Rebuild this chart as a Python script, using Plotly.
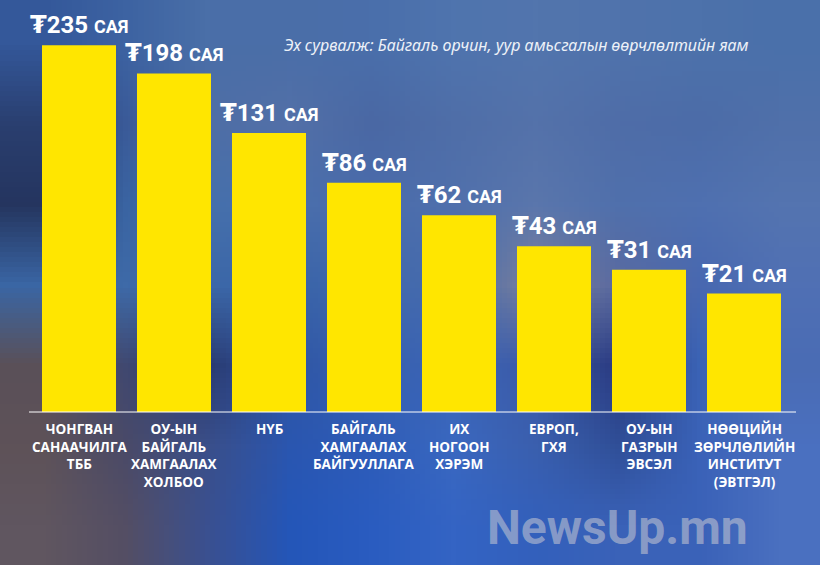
import base64
import struct
import zlib
from typing import List

import plotly.graph_objects as go

CATEGORIES = [
    "ЧОНГВАН<br>САНААЧИЛГА<br>ТББ",
    "ОУ-ЫН<br>БАЙГАЛЬ<br>ХАМГААЛАХ<br>ХОЛБОО",
    "НҮБ",
    "БАЙГАЛЬ<br>ХАМГААЛАХ<br>БАЙГУУЛЛАГА",
    "ИХ<br>НОГООН<br>ХЭРЭМ",
    "ЕВРОП,<br>ГХЯ",
    "ОУ-ЫН<br>ГАЗРЫН<br>ЭВСЭЛ",
    "НӨӨЦИЙН<br>ЗӨРЧЛӨЛИЙН<br>ИНСТИТУТ<br>(ЭВТГЭЛ)",
]
AMOUNTS = [235, 198, 131, 86, 62, 43, 31, 21]  # сая төгрөг
UNIT = "САЯ"
CURRENCY = "₮"
SOURCE = "Эх сурвалж: Байгаль орчин, уур амьсгалын өөрчлөлтийн яам"
WATERMARK = "NewsUp.mn"

# the infographic does not draw bars linearly: heights follow roughly value ** 0.468
HEIGHT_POWER = 0.468

W, H = 820, 565
BASELINE_PX = 412
PX_PER_UNIT = 28.5
BAR_PITCH = 95
FIRST_BAR_CENTER = 79
BAR_WIDTH = 74

YELLOW = "#ffe600"
FONT = "Roboto, 'DejaVu Sans', sans-serif"
LABEL_FONT = "'Open Sans', Roboto, sans-serif"

# very coarse colour map of the blurred photo behind the chart
BACKDROP = [
    ["#34589a", "#3d63a2", "#4a6fa8", "#4a6ea8", "#4a6fab", "#4f74ae", "#5275ad", "#5073ac", "#4d72ab", "#4a70aa"],
    ["#2a3f70", "#3a5a98", "#4e6ea6", "#5370a8", "#4a68a4", "#4f6ea8", "#5472aa", "#4f6da8", "#4c6ca8", "#5070aa"],
    ["#25355f", "#3a64a2", "#4570ac", "#4a6fac", "#4a6cac", "#5070ac", "#5a76ac", "#5070ac", "#4f70b0", "#5474b0"],
    ["#3a66a4", "#3e6aa8", "#3c68a8", "#3a64a8", "#4068ae", "#486cac", "#7a7f9c", "#5a6aa0", "#4868b0", "#5070b4"],
    ["#5a5058", "#404870", "#2a3a70", "#2f56a5", "#3760b0", "#3c65b5", "#3c5aa8", "#2a3a80", "#3a63b5", "#4a6cb4"],
    ["#5e5258", "#4a4a68", "#3a4f8a", "#2a56b0", "#2e5cb8", "#3a68c0", "#3a5fae", "#304f98", "#3a62b8", "#4a70c0"],
    ["#605660", "#544e64", "#3a5090", "#2456b8", "#2a5cc0", "#3464c4", "#3360bc", "#3a62b8", "#3a62b8", "#4a70c0"],
]


def backdrop_uri(rows: List[List[str]]) -> str:
    raw = b""
    for row in rows:
        raw += b"\x00" + bytes(int(c[i:i + 2], 16) for c in row for i in (1, 3, 5))

    def chunk(tag: bytes, data: bytes) -> bytes:
        return struct.pack(">I", len(data)) + tag + data + struct.pack(">I", zlib.crc32(tag + data) & 0xFFFFFFFF)

    png = b"\x89PNG\r\n\x1a\n"
    png += chunk(b"IHDR", struct.pack(">IIBBBBB", len(rows[0]), len(rows), 8, 2, 0, 0, 0))
    png += chunk(b"IDAT", zlib.compress(raw))
    png += chunk(b"IEND", b"")
    return "data:image/png;base64," + base64.b64encode(png).decode()


positions = list(range(len(AMOUNTS)))
heights = [a ** HEIGHT_POWER for a in AMOUNTS]

fig = go.Figure(
    go.Bar(
        x=positions,
        y=heights,
        width=BAR_WIDTH / BAR_PITCH,
        marker={"color": YELLOW, "line": {"width": 0}},
        hoverinfo="skip",
    )
)

# value labels over the bars
for pos, h, amount in zip(positions, heights, AMOUNTS):
    fig.add_annotation(
        x=pos, y=h, xref="x", yref="y",
        text=f"{CURRENCY}{amount} <span style='font-size:18px'>{UNIT}</span>",
        showarrow=False, xanchor="center", yanchor="bottom", yshift=4,
        font={"family": FONT, "size": 24, "color": "white", "weight": "bold"},
    )

# category names under the baseline
for pos, name in zip(positions, CATEGORIES):
    fig.add_annotation(
        x=pos, y=(H - 418) / H, xref="x", yref="paper",
        text=name, showarrow=False, xanchor="center", yanchor="top", align="center",
        font={"family": LABEL_FONT, "size": 13.5, "color": "white", "weight": "bold"},
    )

fig.add_annotation(
    x=282 / W, y=1 - 45 / H, xref="paper", yref="paper",
    text=SOURCE, showarrow=False, xanchor="left", yanchor="middle",
    font={"family": "'Noto Sans', sans-serif", "size": 16, "color": "#edf1f8", "style": "italic"},
)

fig.add_annotation(
    x=617 / W, y=1 - 527 / H, xref="paper", yref="paper",
    text=WATERMARK, showarrow=False, xanchor="center", yanchor="middle",
    font={"family": FONT, "size": 48, "color": "rgba(205,205,212,0.55)", "weight": "bold"},
)

fig.add_shape(
    type="line", xref="paper", yref="paper",
    x0=29 / W, x1=796 / W, y0=1 - BASELINE_PX / H, y1=1 - BASELINE_PX / H,
    line={"color": "white", "width": 1},
)

fig.add_layout_image(
    source=backdrop_uri(BACKDROP), xref="paper", yref="paper",
    x=0, y=1, sizex=1, sizey=1, sizing="stretch", xanchor="left", yanchor="top", layer="below",
)

fig.update_layout(
    width=W,
    height=H,
    margin={"l": 0, "r": 0, "t": 0, "b": 0},
    paper_bgcolor="#3f63a0",
    plot_bgcolor="rgba(0,0,0,0)",
    showlegend=False,
    xaxis={
        "range": [-FIRST_BAR_CENTER / BAR_PITCH, (W - FIRST_BAR_CENTER) / BAR_PITCH],
        "visible": False,
        "fixedrange": True,
    },
    yaxis={
        "domain": [1 - BASELINE_PX / H, 1],
        "range": [0, BASELINE_PX / PX_PER_UNIT],
        "visible": False,
        "fixedrange": True,
    },
)

fig.write_html("out.html", config={"displayModeBar": False},
               post_script="document.body.style.margin = '0';")
